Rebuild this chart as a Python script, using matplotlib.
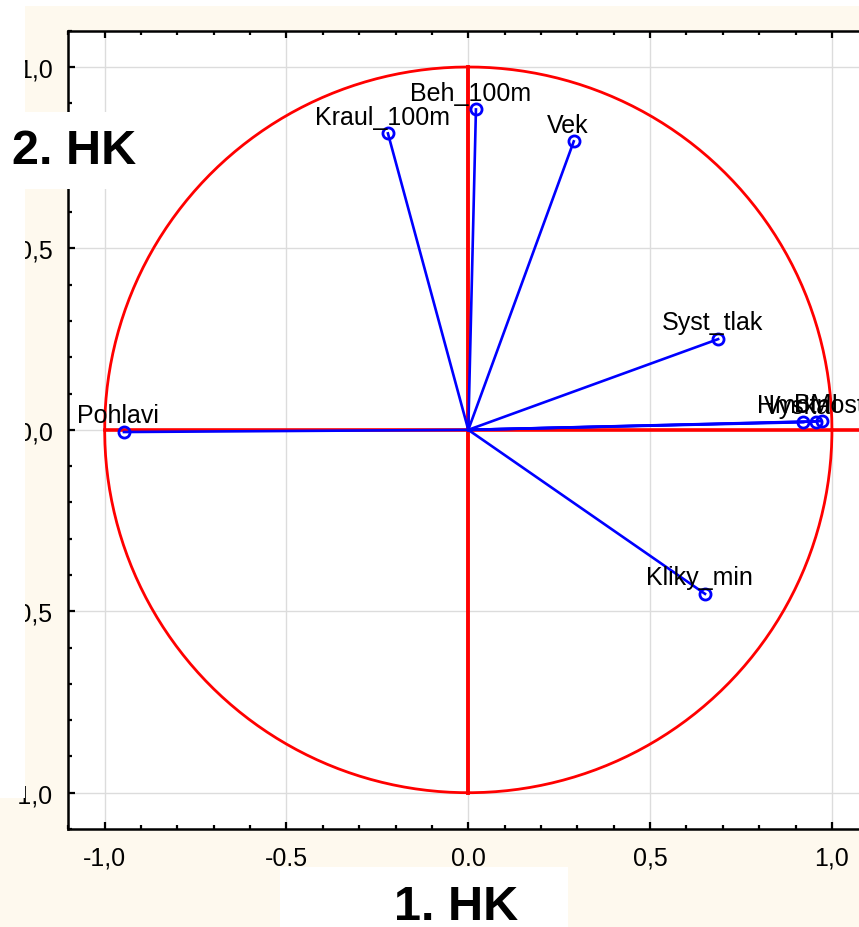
import numpy as np
import matplotlib
matplotlib.use("Agg")
import matplotlib.pyplot as plt
from matplotlib.patches import Rectangle
from matplotlib.ticker import MultipleLocator

plt.rcParams['font.family'] = ['Liberation Sans', 'DejaVu Sans']

# zátěže proměnných na 1. a 2. hlavní komponentu
promenne = ["Pohlavi", "Kraul_100m", "Beh_100m", "Vek", "Syst_tlak",
            "Kliky_min", "Vyska", "Hmotnost", "BMI"]
hk1 = [-0.947, -0.221, 0.021, 0.290, 0.687, 0.651, 0.921, 0.956, 0.972]
hk2 = [-0.006, 0.817, 0.883, 0.795, 0.250, -0.452, 0.021, 0.023, 0.024]

x_ticks = [-1.0, -0.5, 0.0, 0.5, 1.0]
x_tick_labels = ["-1,0", "-0.5", "0.0", "0,5", "1,0"]
y_ticks = [-1.0, -0.5, 0.0, 0.5, 1.0]
y_tick_labels = ["-1,0", "-0,5", "0,0", "0,5", "1,0"]

W, H = 859, 928
krem = "#fef9ee"

fig = plt.figure(figsize=(W / 100, H / 100), dpi=100, facecolor=krem)
ax = fig.add_axes([68.3 / W, (H - 830) / H, 800 / W, 798.3 / H])
ax.set_facecolor("white")
ax.set_xlim(-1.1, 1.1)
ax.set_ylim(-1.1, 1.1)

# jednotková kružnice a osy
t = np.linspace(0, 2 * np.pi, 400)
ax.plot(np.cos(t), np.sin(t), color="red", lw=2.0, zorder=2)
ax.plot([-1, 1.1], [0, 0], color="red", lw=2.6, zorder=2)
ax.plot([0, 0], [-1, 1], color="red", lw=2.8, zorder=2)

# vektory proměnných
for nazev, x, y in zip(promenne, hk1, hk2):
    ax.plot([0, x], [0, y], color="blue", lw=1.9, zorder=3)
    ax.plot(x, y, marker="o", ms=8, mfc="none", mec="blue", mew=2.0,
            zorder=4)
    ax.annotate(nazev, (x, y), xytext=(-4, 7), textcoords="offset points",
                ha="center", va="baseline", fontsize=18, zorder=5)

ax.set_xticks(x_ticks)
ax.set_xticklabels(x_tick_labels)
ax.set_yticks(y_ticks)
ax.set_yticklabels(y_tick_labels)
ax.xaxis.set_minor_locator(MultipleLocator(0.1))
ax.yaxis.set_minor_locator(MultipleLocator(0.1))
ax.tick_params(which="both", direction="in", top=True, right=True,
               width=1.6, labelsize=18)
ax.tick_params(which="major", length=5)
ax.tick_params(which="minor", length=3)
ax.tick_params(axis="x", pad=12)
ax.tick_params(axis="y", pad=11)
ax.grid(True, which="major", color="#dcdcdc", lw=1.0, zorder=0)
ax.set_axisbelow(True)
for s in ax.spines.values():
    s.set_linewidth(1.8)


def bily_obdelnik(x0, y0, x1, y1):
    # souřadnice v pixelech od levého horního rohu
    fig.add_artist(Rectangle((x0 / W, 1 - y1 / H), (x1 - x0) / W, (y1 - y0) / H,
                             transform=fig.transFigure, facecolor="white",
                             edgecolor="none", zorder=10))


bily_obdelnik(0, 0, W, 7)
bily_obdelnik(0, 0, 25, 799)
bily_obdelnik(0, 113, 140, 190)
bily_obdelnik(280, 868, 568, H)

fig.text(74 / W, 1 - 151 / H, "2. HK", fontsize=35, fontweight="bold",
         ha="center", va="center", zorder=11)
fig.text(456 / W, 1 - 908 / H, "1. HK", fontsize=35, fontweight="bold",
         ha="center", va="center", zorder=11)

fig.savefig("out.png", dpi=100, facecolor=krem)
